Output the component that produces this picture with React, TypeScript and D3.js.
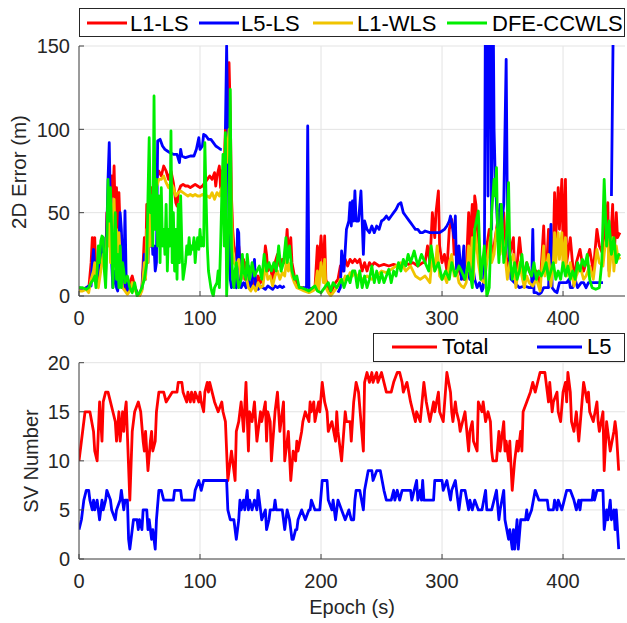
import React from "react";
import * as d3 from "d3";

type Pt = [number, number | null];

// ---------- DATA ----------
const xTicks = [0, 100, 200, 300, 400];
const errTicks = [0, 50, 100, 150];
const svTicks = [0, 5, 10, 15, 20];
const errNames = ["L1-LS", "L5-LS", "L1-WLS", "DFE-CCWLS"];
const errColors = ["#ff0000", "#0000ff", "#f0c400", "#00ee00"];
const svNames = ["Total", "L5"];
const svColors = ["#ff0000", "#0000ff"];

const l1ls: Pt[] = [[0,5],[3,4],[6,5],[8,4],[10,20],[11,35],[12,25],[13,35],[14,12],[16,8],[18,20],[20,30],[22,15],[23,50],[24,40],[25,65],[26,30],[27,72],[28,60],[29,78],[30,45],[31,65],[32,25],[33,62],[34,40],[35,20],[36,10],[37,20],[38,5],[40,3],[42,8],[44,12],[46,6],[48,2],[50,0],[52,5],[54,35],[55,15],[56,55],[57,25],[58,60],[59,40],[60,65],[61,50],[62,72],[63,60],[64,70],[66,75],[68,72],[70,78],[72,75],[74,70],[76,75],[78,68],[80,56],[81,54],[82,62],[84,66],[86,67],[88,66],[90,66],[92,65],[94,66],[96,67],[98,66],[100,65],[102,66],[104,68],[106,70],[108,72],[110,70],[112,74],[113,66],[114,72],[116,78],[117,65],[118,75],[119,60],[120,80],[121,100],[122,95],[123,100],[124,140],[125,110],[126,60],[127,40],[128,30],[130,25],[131,20],[132,30],[134,15],[136,22],[137,10],[138,20],[140,8],[142,5],[144,10],[146,5],[148,12],[150,8],[152,10],[154,30],[155,25],[156,15],[158,18],[160,10],[162,20],[164,25],[166,18],[168,22],[170,20],[172,40],[173,25],[175,35],[176,20],[178,12],[180,8],[182,5],[185,5],[188,3],[190,3],[193,4],[195,5],[197,30],[198,5],[199,25],[200,36],[202,15],[203,36],[204,10],[206,5],[208,2],[210,5],[212,8],[214,10],[216,18],[218,15],[220,22],[222,18],[224,22],[226,20],[228,22],[230,20],[232,22],[234,15],[236,20],[238,15],[240,20],[242,18],[244,20],[248,18],[252,19],[256,18],[260,19],[264,18],[268,20],[272,19],[276,20],[280,18],[284,20],[286,20],[288,30],[290,20],[292,50],[294,35],[295,50],[297,63],[298,30],[300,20],[302,25],[304,15],[306,40],[308,46],[309,40],[310,25],[312,30],[314,15],[316,12],[318,10],[320,15],[322,50],[323,30],[325,55],[326,20],[327,60],[328,55],[330,30],[332,20],[335,15],[337,30],[339,40],[340,40],[341,25],[343,30],[346,45],[348,35],[351,50],[352,35],[354,15],[356,25],[359,35],[360,15],[361,10],[364,35],[366,20],[367,10],[370,20],[372,15],[375,10],[378,15],[381,5],[384,42],[385,20],[387,25],[388,40],[390,10],[392,30],[393,62],[394,35],[396,65],[397,40],[399,70],[400,30],[402,70],[403,20],[406,35],[409,10],[411,20],[414,28],[417,15],[419,20],[422,28],[425,15],[428,40],[430,30],[433,25],[435,45],[437,56],[438,15],[441,55],[442,20],[444,50],[445,35],[447,38]];

const l5ls: Pt[] = [[0,5],[3,4],[6,5],[8,6],[10,6],[11,20],[12,28],[13,15],[15,12],[17,20],[19,30],[20,35],[21,15],[22,14],[23,40],[24,70],[25,92],[26,50],[27,20],[28,5],[29,10],[30,15],[31,5],[32,3],[33,30],[34,50],[35,40],[36,20],[37,5],[38,51],[39,10],[40,3],[42,5],[44,3],[46,5],[48,2],[50,1],[52,4],[54,25],[55,10],[56,35],[57,20],[58,45],[59,30],[60,40],[61,25],[62,30],[63,15],[64,20],[65,93],[67,94],[69,90],[71,88],[73,87],[75,86],[78,85],[81,85],[83,80],[84,88],[85,84],[88,83],[92,84],[95,84],[97,88],[99,95],[100,88],[102,90],[103,97],[105,96],[107,94],[109,94],[111,92],[113,90],[115,89],[117,88],[118,88],[119,null],[121,100],[122,150],[123,100],[124,40],[125,10],[126,5],[128,8],[130,5],[131,40],[132,38],[133,10],[134,5],[136,8],[138,5],[140,18],[141,5],[143,8],[145,22],[146,6],[148,4],[150,6],[152,5],[154,4],[156,6],[158,5],[160,4],[162,6],[164,5],[166,6],[168,5],[170,6],[171,null],[185,5],[188,5],[189,102],[190,5],[192,4],[194,5],[195,null],[214,2],[216,5],[217,27],[219,15],[221,40],[223,45],[224,56],[225,42],[226,57],[227,45],[228,63],[229,45],[231,45],[233,63],[234,45],[235,25],[236,45],[238,40],[240,38],[242,42],[244,38],[246,42],[248,40],[250,45],[252,46],[254,48],[256,46],[258,48],[260,50],[262,52],[264,55],[266,56],[268,50],[270,48],[272,46],[274,44],[276,42],[278,40],[280,40],[282,38],[284,38],[286,39],[290,38],[294,38],[298,38],[300,39],[302,40],[304,42],[306,45],[307,48],[309,40],[310,35],[311,48],[312,15],[314,30],[316,10],[318,30],[319,10],[321,15],[323,10],[325,20],[327,10],[329,5],[331,8],[333,3],[334,5],[335,20],[336,200],[337,200],[338,60],[339,200],[340,200],[341,40],[342,200],[343,100],[344,70],[346,40],[348,55],[349,40],[351,55],[353,142],[354,50],[355,30],[357,10],[360,8],[364,5],[368,6],[372,5],[374,5],[375,40],[376,2],[378,2],[380,1],[382,2],[384,5],[386,5],[388,5],[390,43],[391,5],[393,3],[395,2],[397,8],[400,8],[403,8],[405,10],[406,5],[408,5],[410,10],[412,5],[415,8],[417,8],[419,5],[421,8],[425,8],[429,8],[433,8],[434,null],[440,60],[442,200]];

const l1wls: Pt[] = [[0,3],[3,3],[6,4],[8,2],[10,10],[12,15],[13,20],[14,8],[16,5],[18,15],[20,25],[22,10],[23,35],[24,30],[25,50],[26,20],[27,55],[28,40],[29,58],[30,30],[31,40],[32,15],[33,38],[34,25],[35,12],[36,5],[38,3],[40,1],[42,3],[44,8],[46,4],[48,1],[50,0],[52,3],[54,20],[55,10],[56,40],[57,20],[58,50],[59,30],[60,55],[62,62],[64,65],[66,70],[68,70],[70,72],[72,68],[74,65],[76,68],[78,65],[80,60],[82,62],[84,63],[86,62],[88,61],[90,60],[92,61],[94,60],[96,61],[98,60],[100,60],[102,61],[104,60],[106,60],[108,59],[110,62],[112,58],[114,62],[116,60],[118,65],[119,50],[120,70],[121,95],[122,80],[123,90],[124,100],[125,80],[126,50],[127,30],[128,20],[130,18],[132,22],[134,10],[136,15],[138,12],[140,5],[142,3],[144,6],[146,3],[148,8],[150,5],[152,6],[154,18],[155,15],[156,10],[158,12],[160,6],[162,12],[164,15],[166,10],[168,14],[170,12],[172,25],[173,15],[175,20],[176,12],[178,8],[180,5],[183,4],[186,3],[190,2],[193,3],[195,4],[197,15],[198,3],[200,20],[202,8],[203,22],[204,5],[206,2],[208,0],[210,2],[212,4],[214,6],[216,10],[218,8],[220,12],[222,10],[224,14],[226,12],[228,14],[230,12],[234,10],[238,12],[242,10],[246,12],[250,15],[254,14],[258,16],[262,18],[266,20],[270,15],[274,18],[278,12],[282,10],[286,12],[290,8],[292,25],[294,15],[296,30],[298,12],[300,10],[302,12],[304,8],[306,20],[308,25],[310,12],[312,15],[314,8],[316,6],[318,5],[320,8],[322,30],[323,15],[325,35],[326,10],[327,40],[328,35],[330,20],[332,10],[335,8],[337,20],[339,30],[340,35],[341,20],[343,25],[345,40],[348,25],[350,35],[352,25],[354,10],[356,20],[359,25],[361,5],[364,20],[366,12],[368,5],[370,12],[372,8],[375,6],[378,10],[381,3],[384,30],[385,12],[388,25],[390,6],[392,20],[393,38],[394,20],[396,38],[397,22],[399,38],[400,18],[402,35],[403,12],[406,20],[409,6],[411,12],[414,18],[417,10],[419,12],[422,18],[425,10],[428,28],[430,20],[433,18],[435,32],[437,38],[438,12],[441,35],[442,15],[444,30],[445,25],[447,22]];

const dfe: Pt[] = [[0,5],[3,5],[6,4],[8,5],[10,8],[12,10],[13,12],[14,5],[15,15],[16,30],[17,20],[18,33],[19,36],[20,35],[21,15],[22,5],[23,30],[24,70],[25,45],[26,65],[27,40],[28,5],[29,30],[30,50],[31,10],[32,25],[33,5],[34,30],[35,5],[36,20],[37,15],[38,8],[40,12],[42,5],[44,2],[46,8],[48,0],[50,2],[52,5],[54,10],[56,20],[57,60],[58,95],[59,50],[60,60],[61,30],[62,120],[63,40],[64,70],[65,30],[66,60],[67,20],[68,65],[69,30],[70,40],[71,25],[72,55],[73,15],[74,40],[75,30],[76,99],[77,20],[78,50],[79,15],[80,40],[81,10],[82,55],[83,20],[84,60],[85,30],[86,10],[87,15],[88,20],[89,30],[90,25],[91,35],[92,25],[93,30],[94,28],[95,35],[96,20],[97,30],[98,35],[99,28],[100,40],[101,30],[102,35],[103,30],[104,92],[105,60],[106,30],[107,15],[108,10],[109,5],[110,2],[111,0],[112,5],[114,8],[115,15],[116,5],[117,30],[118,60],[119,85],[120,30],[121,98],[122,0],[123,20],[124,50],[125,124],[126,30],[127,10],[128,5],[129,15],[130,20],[131,10],[132,5],[134,10],[135,25],[136,15],[138,10],[139,25],[141,10],[143,20],[145,12],[147,15],[149,18],[151,10],[153,25],[155,15],[157,20],[159,15],[161,20],[163,15],[165,30],[167,15],[169,20],[171,35],[172,20],[174,30],[176,15],[178,10],[180,12],[182,5],[184,5],[187,4],[190,3],[193,5],[195,6],[197,3],[200,2],[203,5],[206,8],[208,3],[210,8],[213,5],[217,10],[219,5],[222,12],[224,8],[226,15],[228,15],[230,5],[232,15],[234,5],[236,12],[238,5],[240,10],[242,18],[244,8],[246,15],[248,8],[250,14],[252,8],[256,16],[258,8],[260,15],[262,12],[264,20],[266,15],[268,22],[270,18],[272,25],[274,20],[277,27],[280,18],[283,25],[286,20],[289,15],[291,30],[294,15],[297,20],[300,10],[303,15],[306,10],[308,20],[311,12],[314,18],[316,15],[319,10],[322,20],[325,5],[327,40],[330,51],[332,10],[335,30],[337,0],[339,5],[341,50],[343,70],[344,60],[345,77],[346,35],[347,20],[349,55],[351,20],[353,30],[355,68],[356,25],[358,10],[360,20],[362,10],[364,15],[366,25],[368,10],[370,20],[372,15],[374,12],[376,20],[378,10],[380,15],[382,12],[384,15],[386,20],[388,10],[390,15],[392,20],[394,10],[396,15],[398,10],[400,20],[402,12],[404,18],[406,10],[408,15],[410,10],[412,20],[414,15],[416,22],[418,18],[420,25],[422,10],[424,5],[427,4],[430,5],[432,20],[434,70],[436,30],[438,45],[440,25],[442,35],[444,20],[446,25],[447,24]];

const svTotal: Pt[] = [[0,10],[2,12],[5,15],[9,15],[12,13],[13,11],[15,10],[17,16],[19,12],[20,16],[22,17],[24,17],[26,16],[28,15],[30,14],[31,12],[33,15],[34,12],[36,15],[37,13],[38,15],[39,16],[42,6],[44,13],[46,15],[49,16],[51,15],[53,12],[54,11],[55,13],[57,9],[59,12],[60,13],[61,11],[63,12],[64,15],[66,17],[70,17],[72,16],[77,17],[81,17],[82,18],[85,18],[86,17],[89,16],[90,17],[92,16],[93,17],[95,16],[96,17],[99,16],[100,17],[101,16],[103,15],[104,17],[106,18],[107,17],[108,18],[110,17],[112,16],[115,15],[118,16],[119,15],[121,14],[123,8],[126,11],[129,8],[130,13],[132,14],[133,15],[134,16],[136,13],[138,18],[140,11],[141,15],[143,14],[145,16],[147,12],[150,15],[151,14],[154,16],[155,12],[156,15],[158,14],[159,10],[162,15],[164,17],[166,13],[169,16],[170,10],[173,13],[175,8],[177,11],[179,10],[180,12],[181,11],[184,13],[185,14],[187,15],[190,14],[191,16],[192,15],[194,16],[195,14],[198,16],[199,15],[201,18],[203,16],[205,15],[206,13],[209,14],[212,12],[213,15],[214,13],[217,10],[220,15],[221,14],[224,14],[225,12],[227,16],[229,18],[231,17],[235,11],[236,18],[238,19],[240,18],[242,19],[243,18],[246,19],[247,18],[250,19],[252,18],[254,17],[258,17],[260,18],[263,19],[265,19],[267,18],[268,17],[271,18],[274,16],[276,15],[278,14],[279,15],[282,14],[285,18],[287,16],[290,14],[293,16],[294,15],[297,17],[298,15],[301,14],[304,19],[307,17],[308,15],[309,14],[311,16],[312,15],[314,14],[315,13],[319,15],[322,11],[323,13],[325,14],[326,12],[329,11],[330,16],[333,15],[334,16],[336,14],[338,15],[340,14],[341,11],[342,10],[345,10],[347,13],[348,11],[351,14],[352,11],[353,12],[355,10],[356,12],[358,7],[360,10],[362,12],[363,11],[365,13],[366,11],[367,15],[370,16],[373,17],[375,18],[377,17],[381,19],[385,19],[387,17],[388,16],[389,18],[391,15],[392,16],[395,17],[396,15],[398,14],[400,17],[402,18],[403,16],[404,19],[406,17],[407,14],[409,13],[411,15],[413,12],[415,15],[417,18],[420,16],[421,17],[422,15],[425,14],[428,16],[429,14],[430,13],[433,15],[434,9],[436,14],[437,13],[439,11],[442,13],[443,14],[444,13],[446,9]];

const svL5: Pt[] = [[0,3],[2,4],[4,6],[6,7],[8,7],[9,6],[11,5],[12,6],[13,5],[15,6],[16,5],[17,4],[19,6],[20,5],[22,6],[23,7],[26,6],[27,5],[30,4],[31,5],[34,6],[35,7],[37,5],[38,6],[40,6],[41,2],[42,1],[44,3],[45,4],[48,4],[49,3],[50,4],[52,3],[53,5],[56,5],[57,3],[58,4],[60,2],[61,3],[63,1],[64,4],[66,7],[68,7],[70,6],[78,6],[79,7],[84,7],[85,6],[95,6],[96,7],[99,8],[101,7],[103,8],[122,8],[123,5],[125,4],[128,4],[130,2],[132,4],[133,6],[134,5],[136,6],[137,5],[139,7],[140,5],[141,6],[143,5],[145,6],[147,5],[148,7],[150,5],[151,4],[154,5],[155,3],[157,4],[158,5],[161,5],[162,6],[163,5],[168,5],[169,4],[170,3],[172,5],[174,4],[176,2],[177,2],[179,3],[180,3],[181,4],[184,5],[187,4],[190,5],[191,5],[192,6],[195,5],[199,5],[201,8],[205,8],[206,6],[209,5],[210,6],[212,4],[214,6],[217,5],[220,4],[223,5],[225,4],[227,4],[228,6],[229,7],[232,7],[235,5],[236,7],[239,9],[242,9],[243,8],[246,9],[249,9],[252,7],[254,6],[258,6],[260,7],[261,6],[263,7],[265,6],[267,7],[274,7],[275,6],[279,8],[280,6],[282,7],[283,6],[284,8],[285,6],[293,6],[294,8],[300,8],[301,7],[304,8],[307,6],[308,7],[311,8],[314,5],[316,7],[319,7],[322,5],[323,6],[325,5],[327,6],[330,5],[333,5],[336,7],[337,5],[341,5],[345,7],[347,4],[348,5],[351,7],[352,4],[355,2],[356,3],[358,1],[359,3],[360,1],[362,4],[363,1],[365,4],[369,4],[370,5],[371,4],[374,5],[377,7],[380,6],[387,6],[388,5],[392,5],[393,6],[395,5],[396,6],[399,5],[403,7],[406,7],[409,6],[411,5],[413,6],[414,5],[415,6],[424,6],[425,7],[426,6],[428,7],[433,7],[434,3],[436,5],[437,4],[439,6],[440,4],[442,5],[443,3],[444,5],[446,1]];

const errSeries = [l1ls, l5ls, l1wls, dfe];
const svSeries = [svTotal, svL5];

// ---------- LAYOUT ----------
const W = 627;
const H = 623;
const FONT = "'Liberation Sans', Arial, Helvetica, sans-serif";
const TXT = "#262626";
const L = 79, R = 625;
const top1 = 46, bot1 = 296;
const top2 = 362.7, bot2 = 559;
const xMax = 451.2;
const LW = 2.8;

function Panel({ yTop, yBot, yMax, yTicks, series, colors, clipId, xTickY }: any) {
  const x = d3.scaleLinear().domain([0, xMax]).range([L, R]);
  const y = d3.scaleLinear().domain([0, yMax]).range([yBot, yTop]);
  const line = d3
    .line<Pt>()
    .defined((d) => d[1] !== null)
    .x((d) => x(d[0]))
    .y((d) => y(d[1] as number));
  return (
    <g>
      <defs>
        <clipPath id={clipId}>
          <rect x={L} y={yTop - 1} width={R - L} height={yBot - yTop + 2} />
        </clipPath>
      </defs>
      {xTicks.map((t) => (
        <line key={"gx" + t} x1={x(t)} x2={x(t)} y1={yTop} y2={yBot} stroke="#e3e3e3" strokeWidth={1} />
      ))}
      {yTicks.map((t: number) => (
        <line key={"gy" + t} x1={L} x2={R} y1={y(t)} y2={y(t)} stroke="#e3e3e3" strokeWidth={1} />
      ))}
      <g clipPath={`url(#${clipId})`}>
        {series.map((s: Pt[], i: number) => (
          <path key={i} d={line(s) || ""} fill="none" stroke={colors[i]} strokeWidth={LW} strokeLinejoin="round" />
        ))}
      </g>
      <line x1={L} x2={L} y1={yTop} y2={yBot} stroke="#444" strokeWidth={1} />
      <line x1={L} x2={R} y1={yBot} y2={yBot} stroke="#444" strokeWidth={1} />
      {xTicks.map((t) => (
        <g key={"tx" + t}>
          <line x1={x(t)} x2={x(t)} y1={yBot} y2={yBot - 5} stroke="#444" />
          <text x={x(t)} y={xTickY} textAnchor="middle" fontSize={20} fill={TXT} fontFamily={FONT}>
            {t}
          </text>
        </g>
      ))}
      {yTicks.map((t: number) => (
        <g key={"ty" + t}>
          <line x1={L} x2={L + 5} y1={y(t)} y2={y(t)} stroke="#444" />
          <text x={70} y={y(t) + 7.3} textAnchor="end" fontSize={20} fill={TXT} fontFamily={FONT}>
            {t}
          </text>
        </g>
      ))}
    </g>
  );
}

export default function App() {
  const legTop = [
    { lx: 87, tx: 130 },
    { lx: 199, tx: 241 },
    { lx: 313, tx: 357 },
    { lx: 447, tx: 492 },
  ];
  const legBot = [
    { lx: 392, tx: 442 },
    { lx: 537, tx: 587 },
  ];
  return (
    <svg width={W} height={H} style={{ display: "block", position: "absolute", left: 0, top: 0, background: "#fff" }}>
      <rect width={W} height={H} fill="#fff" />
      <Panel yTop={top1} yBot={bot1} yMax={150} yTicks={errTicks} series={errSeries} colors={errColors} clipId="c1" xTickY={325} />
      <Panel yTop={top2} yBot={bot2} yMax={20} yTicks={svTicks} series={svSeries} colors={svColors} clipId="c2" xTickY={588} />

      <text transform={`translate(26,172) rotate(-90)`} textAnchor="middle" fontSize={20.5} fill={TXT} fontFamily={FONT}>
        2D Error (m)
      </text>
      <text transform={`translate(38,461) rotate(-90)`} textAnchor="middle" fontSize={20} fill={TXT} fontFamily={FONT}>
        SV Number
      </text>
      <text x={352} y={614} textAnchor="middle" fontSize={20} fill={TXT} fontFamily={FONT}>
        Epoch (s)
      </text>

      <rect x={79.5} y={8.5} width={545} height={28} fill="#fff" stroke="#262626" strokeWidth={1} />
      {errNames.map((n, i) => (
        <g key={n}>
          <line x1={legTop[i].lx} x2={legTop[i].lx + 40} y1={23} y2={23} stroke={errColors[i]} strokeWidth={LW} />
          <text x={legTop[i].tx} y={31} fontSize={22} fill="#000" fontFamily={FONT}>
            {n}
          </text>
        </g>
      ))}

      <rect x={373.5} y={333.5} width={251} height={28} fill="#fff" stroke="#262626" strokeWidth={1} />
      {svNames.map((n, i) => (
        <g key={n}>
          <line x1={legBot[i].lx} x2={legBot[i].lx + 45} y1={347} y2={347} stroke={svColors[i]} strokeWidth={LW} />
          <text x={legBot[i].tx} y={354} fontSize={22} fill="#000" fontFamily={FONT}>
            {n}
          </text>
        </g>
      ))}
    </svg>
  );
}
